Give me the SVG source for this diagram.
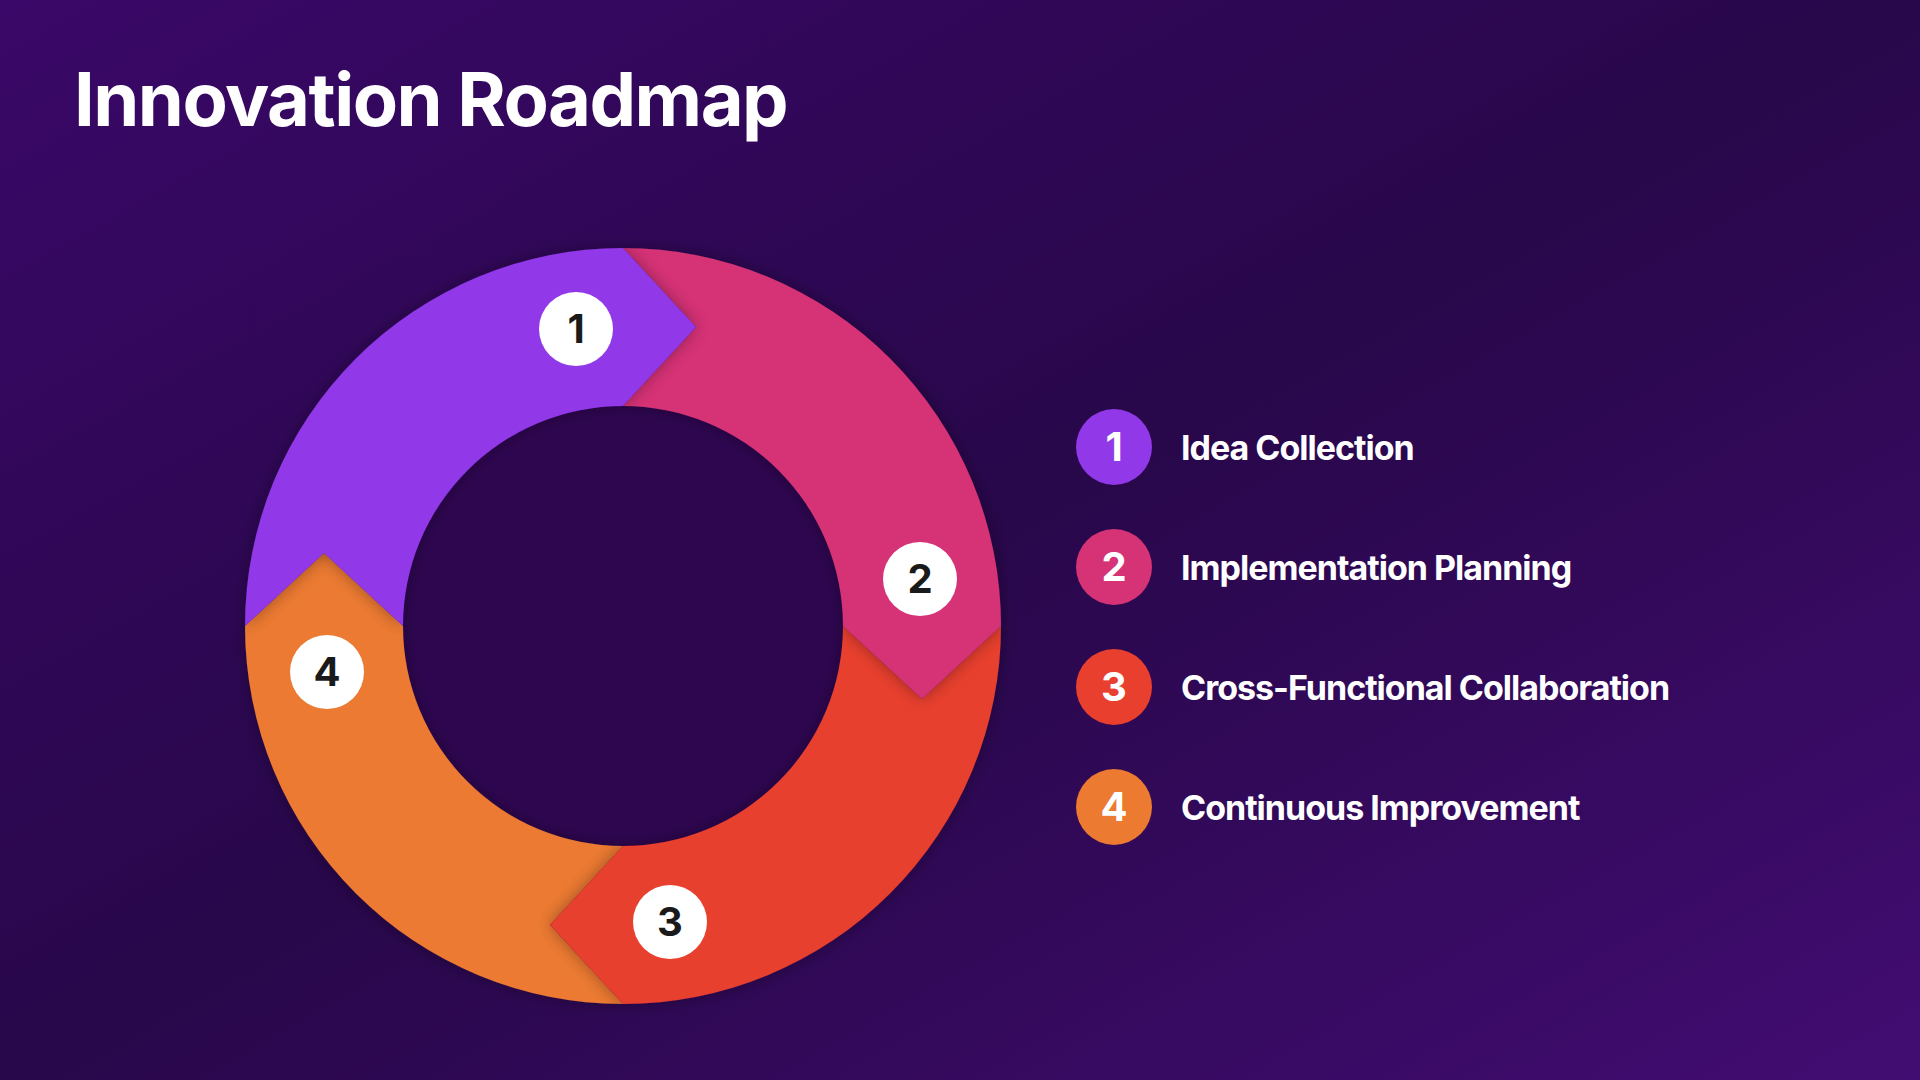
<svg xmlns="http://www.w3.org/2000/svg" width="1920" height="1080" viewBox="0 0 1920 1080">
<defs>
<linearGradient id="bg" x1="0" y1="0" x2="1" y2="1">
<stop offset="0" stop-color="#3a0868"/>
<stop offset="0.5" stop-color="#28074a"/>
<stop offset="1" stop-color="#420d72"/>
</linearGradient>
<filter id="sh" x="-20%" y="-20%" width="140%" height="140%"><feDropShadow dx="0" dy="0" stdDeviation="8" flood-color="#000" flood-opacity="0.35"/></filter>
</defs>
<style>
.badge{fill:#fff}
.bn{font-family:Inter,"Liberation Sans",sans-serif;font-weight:700;font-size:40px;fill:#1a1a1a;text-anchor:middle}
.ln{font-family:Inter,"Liberation Sans",sans-serif;font-weight:700;font-size:40px;fill:#fff;text-anchor:middle}
.lt{font-family:Inter,"Liberation Sans",sans-serif;font-weight:700;font-size:34px;fill:#fff;letter-spacing:-1px}
</style>
<rect width="1920" height="1080" fill="url(#bg)"/>
<text x="74" y="126" font-family="Inter,'Liberation Sans',sans-serif" font-weight="700" font-size="74" fill="#fff" letter-spacing="-1.5">Innovation Roadmap</text>
<circle cx="623" cy="626" r="220" fill="#2e0650"/>
<g id="connectors"></g>
<g id="seg4" filter="url(#sh)"><path d="M623,1004 A378,378 0 0 1 245,626 L324,553 L403,626 A220,220 0 0 0 623,846 L550,925 Z" fill="#ec7a30"/></g>
<g id="seg3" filter="url(#sh)"><path d="M1001,626 A378,378 0 0 1 623,1004 L550,925 L623,846 A220,220 0 0 0 843,626 L922,699 Z" fill="#e83f2f"/></g>
<g id="seg2" filter="url(#sh)"><path d="M623,248 A378,378 0 0 1 1001,626 L922,699 L843,626 A220,220 0 0 0 623,406 L696,327 Z" fill="#d63376"/></g>
<g id="seg1" filter="url(#sh)"><path d="M245,626 A378,378 0 0 1 623,248 L696,327 L623,406 A220,220 0 0 0 403,626 L324,553 Z" fill="#9138e8"/></g>
<g id="b1"><circle class="badge" cx="576" cy="329" r="37"/><text class="bn" x="576" y="343">1</text></g>
<g id="b2"><circle class="badge" cx="920" cy="579" r="37"/><text class="bn" x="920" y="593">2</text></g>
<g id="b3"><circle class="badge" cx="670" cy="922" r="37"/><text class="bn" x="670" y="936">3</text></g>
<g id="b4"><circle class="badge" cx="327" cy="672" r="37"/><text class="bn" x="327" y="686">4</text></g>
<g id="l1"><circle cx="1114" cy="447" r="38" fill="#9138e8"/><text class="ln" x="1114" y="461">1</text><text class="lt" x="1181" y="460">Idea Collection</text></g>
<g id="l2"><circle cx="1114" cy="567" r="38" fill="#d63376"/><text class="ln" x="1114" y="581">2</text><text class="lt" x="1181" y="580">Implementation Planning</text></g>
<g id="l3"><circle cx="1114" cy="687" r="38" fill="#e83f2f"/><text class="ln" x="1114" y="701">3</text><text class="lt" x="1181" y="700">Cross-Functional Collaboration</text></g>
<g id="l4"><circle cx="1114" cy="807" r="38" fill="#ec7a30"/><text class="ln" x="1114" y="821">4</text><text class="lt" x="1181" y="820">Continuous Improvement</text></g>
</svg>
